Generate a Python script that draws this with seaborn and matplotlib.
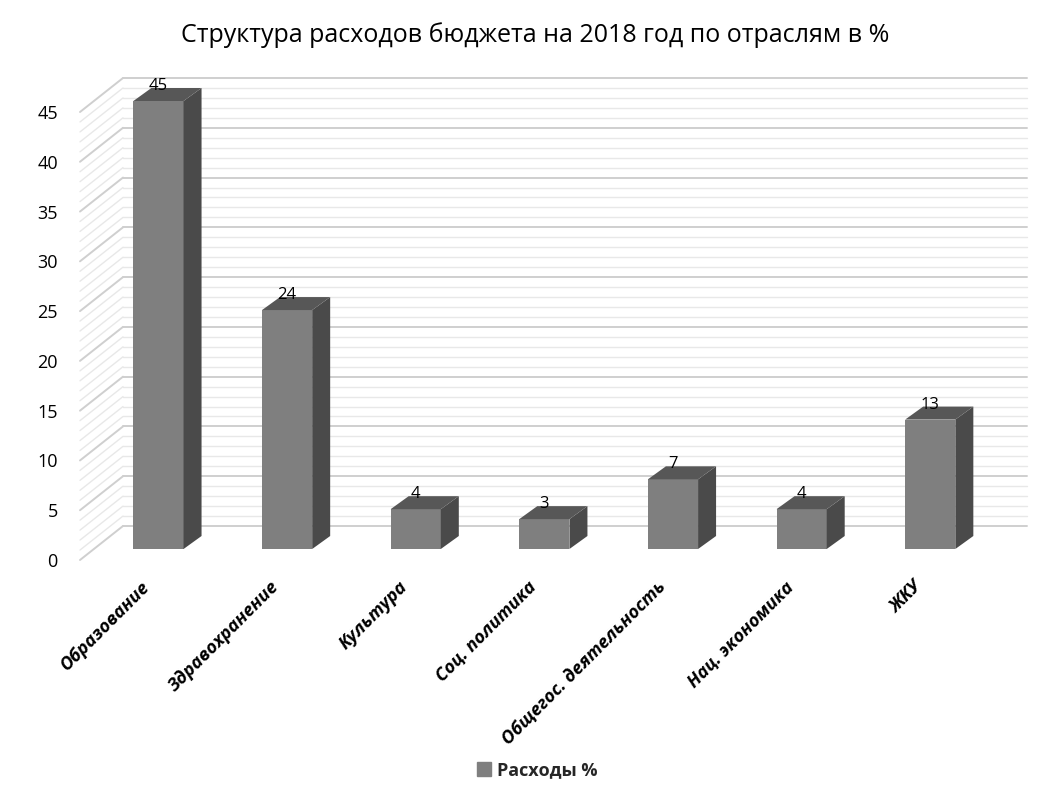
import pandas as pd
import matplotlib
matplotlib.use("Agg")
import matplotlib.pyplot as plt
import matplotlib.transforms as mtransforms
from matplotlib.patches import Polygon, Patch
import seaborn as sns

# Data
title = "Структура расходов бюджета на 2018 год по отраслям в %"
series_name = "Расходы %"
categories = ["Образование", "Здравохранение", "Культура", "Соц. политика",
              "Общегос. деятельность", "Нац. экономика", "ЖКУ"]
values = [45, 24, 4, 3, 7, 4, 13]
y_ticks = [0, 5, 10, 15, 20, 25, 30, 35, 40, 45]
grid_levels = list(range(0, 46))

df = pd.DataFrame({"category": categories, "value": values})

sns.set_theme(style="white")
plt.rcParams["font.family"] = ["Open Sans", "DejaVu Sans"]

front_col = "#7f7f7f"
side_col = "#4a4a4a"
top_col = "#575757"
major_col = "#cfcfcf"
minor_col = "#e8e8e8"

fig = plt.figure(figsize=(10.5, 8), dpi=100)
fig.patch.set_facecolor("white")
# axes box = front plane of the bars
ax = fig.add_axes([80 / 1050, 251 / 800, 930 / 1050, 448 / 800])
sns.barplot(data=df, x="category", y="value", color=front_col, width=0.39,
            saturation=1, linewidth=0, ax=ax, zorder=3)
ax.set_xlim(-0.61, 6.62)
ax.set_ylim(0, 45)
for s in ax.spines.values():
    s.set_visible(False)
ax.set_xlabel("")
ax.set_ylabel("")

x0, x1 = ax.get_xlim()
y0, y1 = ax.get_ylim()


# pixel offsets -> data units
def px(dx, dy):
    return dx / ax.bbox.width * (x1 - x0), dy / ax.bbox.height * (y1 - y0)


# back wall and side wall grid
wall_dx, wall_dy = px(43, 34)
front_drop = px(0, 11)[1]
right_ext = px(17, 0)[0]
for v in grid_levels:
    col = major_col if v % 5 == 0 else minor_col
    lw = 1.4 if v % 5 == 0 else 1.0
    yb = v - front_drop + wall_dy
    ax.plot([x0 + wall_dx, x1 + right_ext], [yb, yb], color=col, lw=lw,
            clip_on=False, zorder=1)
    ax.plot([x0, x0 + wall_dx], [v - front_drop, yb], color=col, lw=lw,
            clip_on=False, zorder=1)

# 3D sides of bars
bdx, bdy = px(18, 13)
for p in list(ax.patches):
    xl = p.get_x()
    xr = xl + p.get_width()
    h = p.get_height()
    ax.add_patch(Polygon([(xr, 0), (xr, h), (xr + bdx, h + bdy), (xr + bdx, bdy)],
                         closed=True, facecolor=side_col, edgecolor="none",
                         zorder=3, clip_on=False))
    ax.add_patch(Polygon([(xl, h), (xr, h), (xr + bdx, h + bdy), (xl + bdx, h + bdy)],
                         closed=True, facecolor=top_col, edgecolor="none",
                         zorder=3, clip_on=False))

ax.bar_label(ax.containers[0], padding=5, fontsize=12, color="black", zorder=5)

# y ticks sit on the side wall front edge
ax.set_yticks(y_ticks)
ax.set_yticklabels([str(t) for t in y_ticks], fontsize=13, color="black")
ax.tick_params(axis="y", length=0, pad=16)
shift_y = mtransforms.ScaledTranslation(0, -0.11, fig.dpi_scale_trans)
for lbl in ax.get_yticklabels():
    lbl.set_transform(lbl.get_transform() + shift_y)

ax.set_xticks(range(len(categories)))
ax.set_xticklabels(categories, rotation=45, ha="right", va="center",
                   rotation_mode="anchor", fontweight="bold", fontstyle="italic",
                   fontsize=13, color="black")
ax.tick_params(axis="x", length=0, pad=25)
shift_x = mtransforms.ScaledTranslation(-0.11, 0, fig.dpi_scale_trans)
for lbl in ax.get_xticklabels():
    lbl.set_transform(lbl.get_transform() + shift_x)

fig.text(0.51, 1 - 35 / 800, title, ha="center", va="center", fontsize=18,
         color="black")

fig.legend(handles=[Patch(color=front_col, label=series_name)], loc="center",
           bbox_to_anchor=(537 / 1050, 1 - 770 / 800), frameon=False,
           prop={"weight": "bold", "size": 13}, handlelength=0.8,
           handleheight=0.8, handletextpad=0.3)

fig.savefig("out.png", dpi=100, facecolor="white")
